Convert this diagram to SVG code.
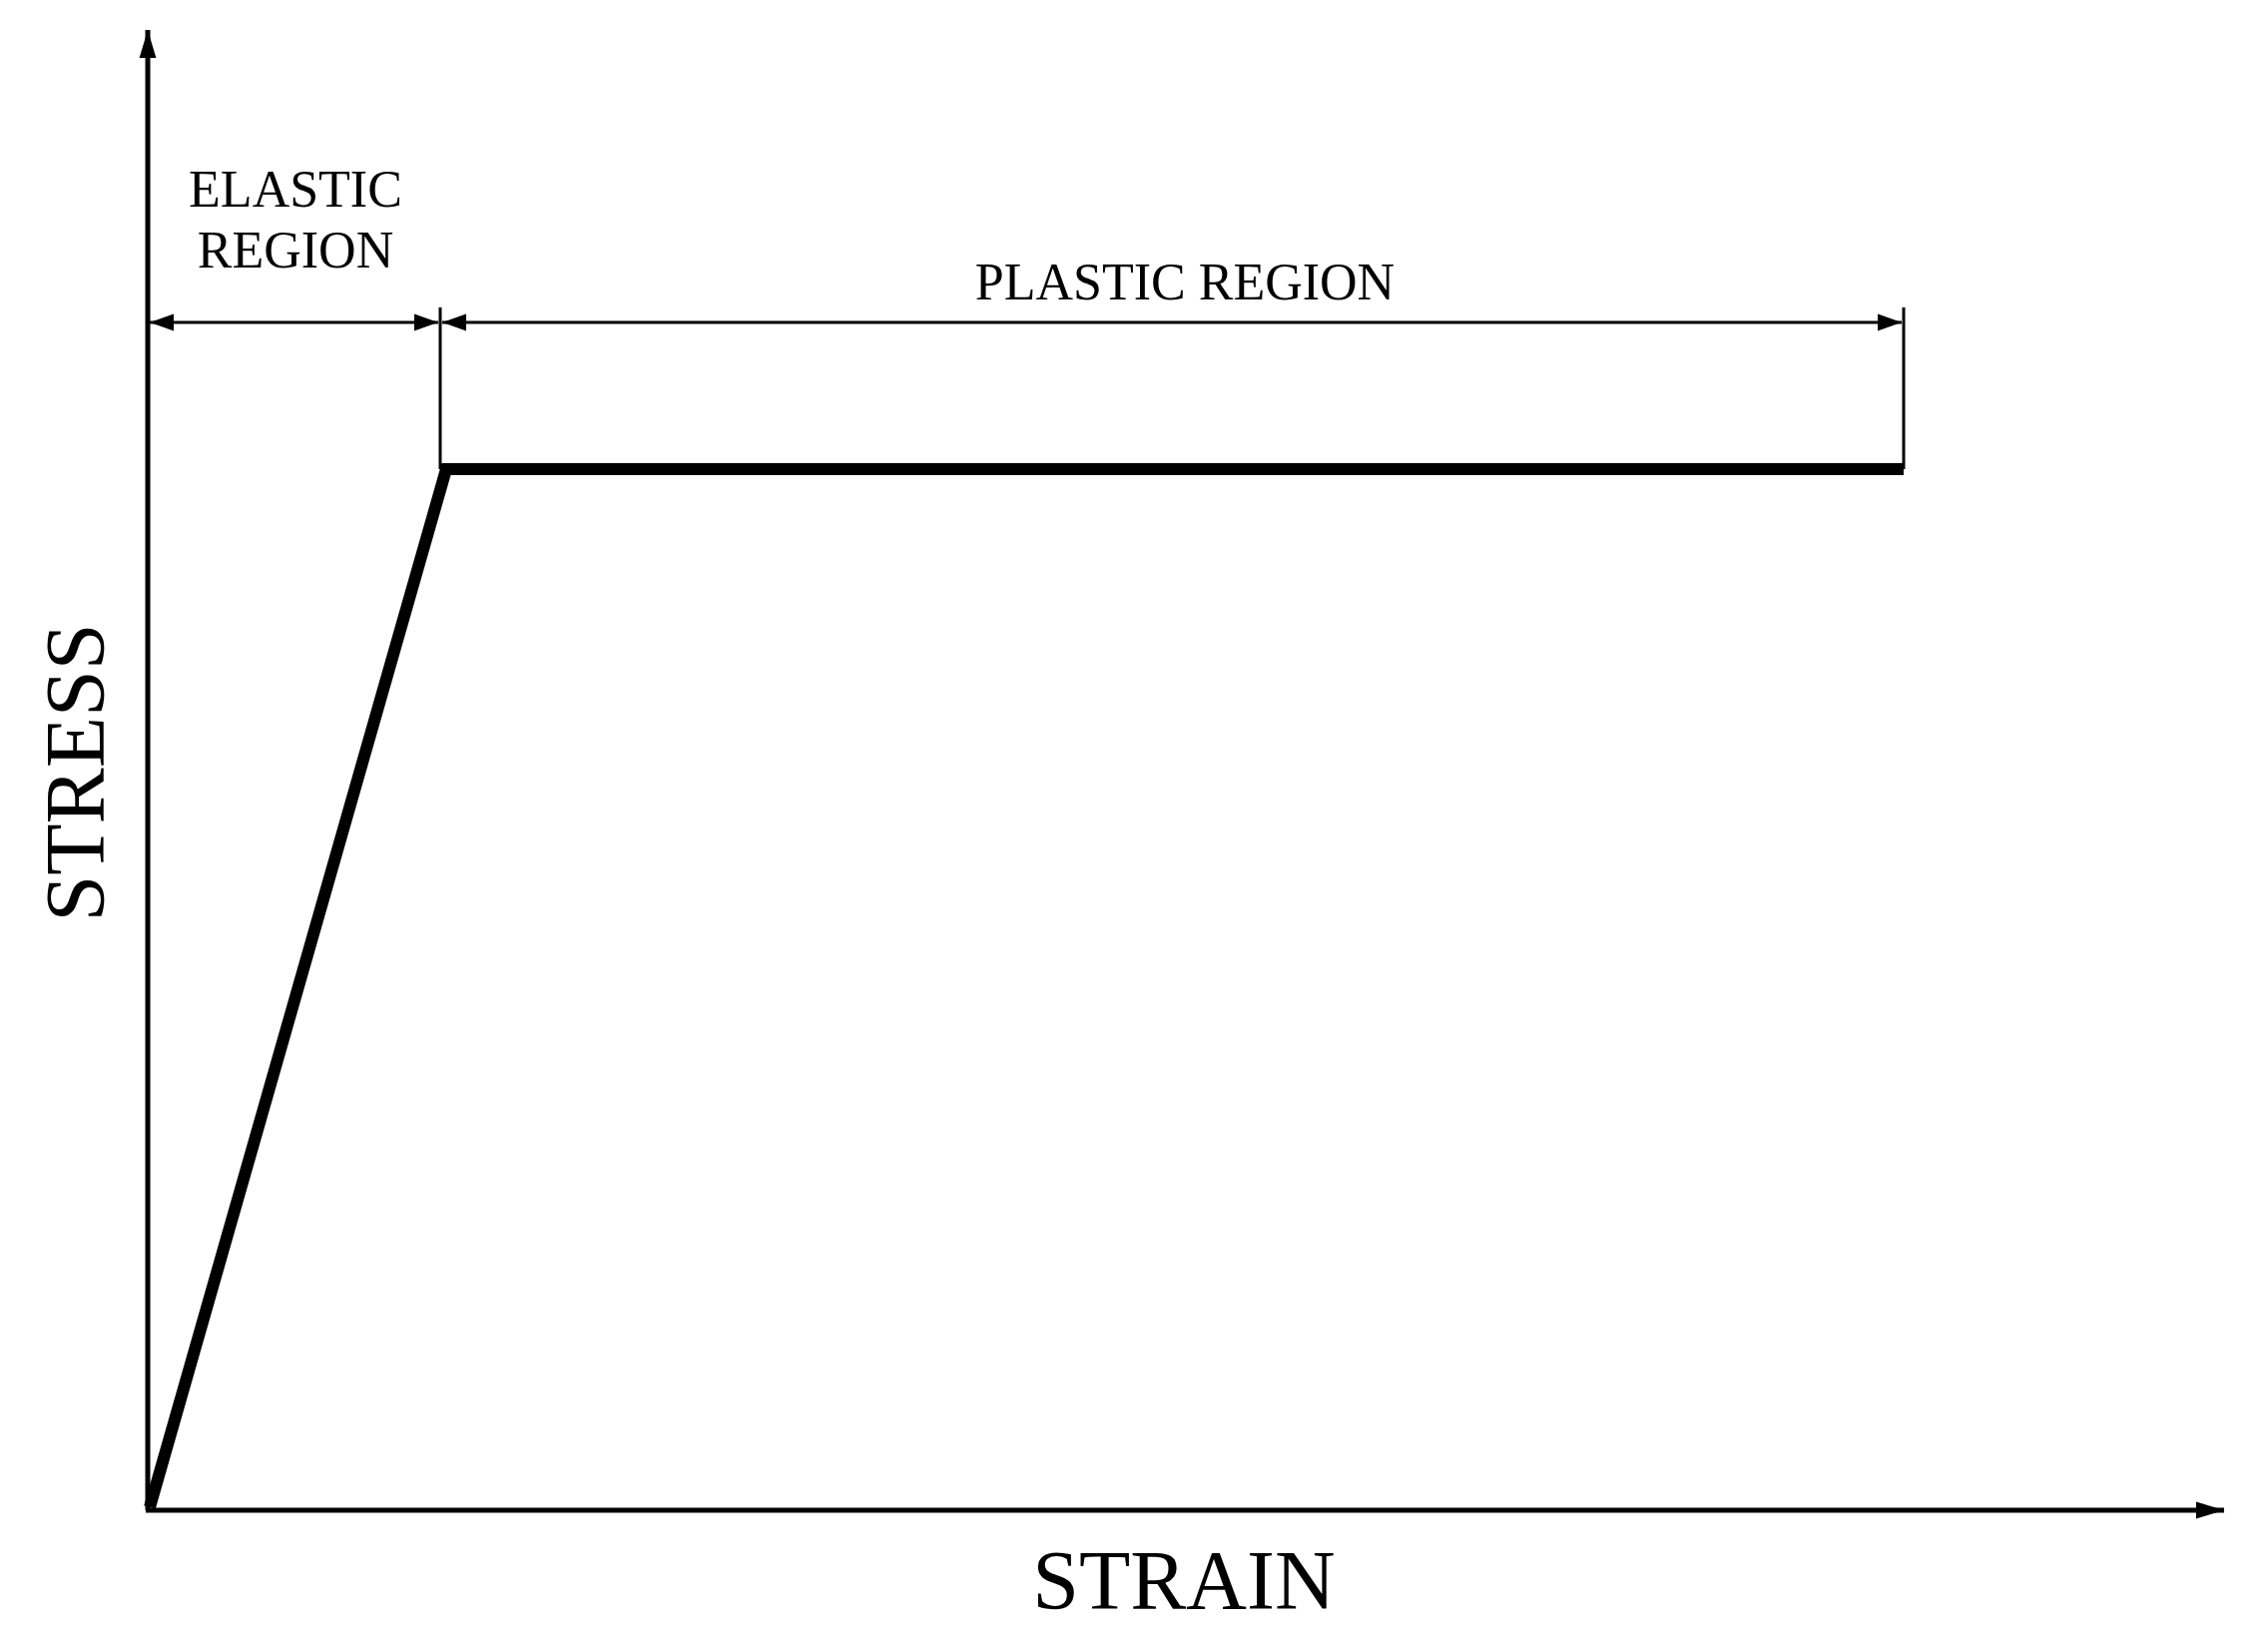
<svg xmlns="http://www.w3.org/2000/svg" width="2272" height="1641" viewBox="0 0 2272 1641">
<style>
text{font-family:"Liberation Serif","DejaVu Serif",serif;fill:#000}
.ax{stroke:#000;stroke-width:5;fill:none}
.dim{stroke:#000;stroke-width:3;fill:none}
.curve{stroke:#000;stroke-width:12;fill:none}
</style>
<defs>
<marker id="ah" viewBox="0 0 10 10" refX="10" refY="5" markerWidth="24" markerHeight="24" markerUnits="userSpaceOnUse" orient="auto-start-reverse"><path d="M0,1.5 L10,5 L0,8.5 z" fill="#000"/></marker>
<marker id="axh" viewBox="0 0 10 10" refX="10" refY="5" markerWidth="28" markerHeight="28" markerUnits="userSpaceOnUse" orient="auto"><path d="M0,2 L10,5 L0,8 z" fill="#000"/></marker>
</defs>
<g id="connectors">
<line class="ax" x1="148" y1="1513" x2="148" y2="30" marker-end="url(#axh)"/>
<line class="ax" x1="146" y1="1513" x2="2228" y2="1513" marker-end="url(#axh)"/>
<line class="dim" x1="441" y1="308" x2="441" y2="470"/>
<line class="dim" x1="1907" y1="308" x2="1907" y2="470"/>
<line class="dim" x1="150" y1="323" x2="439" y2="323" marker-start="url(#ah)" marker-end="url(#ah)"/>
<line class="dim" x1="443" y1="323" x2="1905" y2="323" marker-start="url(#ah)" marker-end="url(#ah)"/>
<polyline class="curve" points="150,1510 447,470 1907,470" stroke-linejoin="miter"/>
</g>
<g id="elastic-label"><text x="296" y="207" font-size="52" text-anchor="middle">ELASTIC</text><text x="296" y="268" font-size="52" text-anchor="middle">REGION</text></g>
<g id="plastic-label"><text x="1187" y="300" font-size="52" text-anchor="middle">PLASTIC REGION</text></g>
<g id="strain-label"><text x="1186" y="1612" font-size="84" text-anchor="middle">STRAIN</text></g>
<g id="stress-label"><text transform="translate(104,774) rotate(-90)" font-size="84" text-anchor="middle">STRESS</text></g>
</svg>
